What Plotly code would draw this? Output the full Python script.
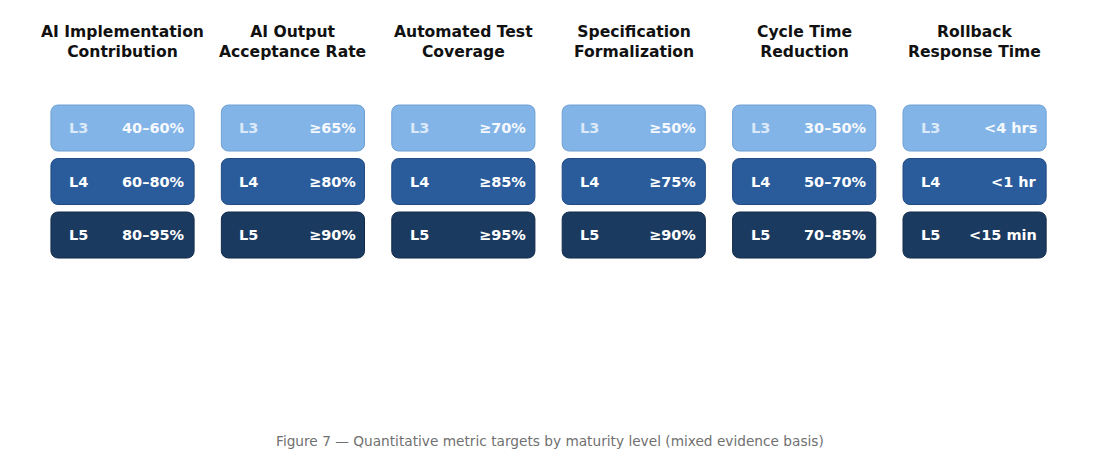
import plotly.graph_objects as go

# metric columns and their targets per maturity level
metrics = [
    "AI Implementation<br>Contribution",
    "AI Output<br>Acceptance Rate",
    "Automated Test<br>Coverage",
    "Specification<br>Formalization",
    "Cycle Time<br>Reduction",
    "Rollback<br>Response Time",
]
levels = ["L3", "L4", "L5"]
l3_targets = ["40–60%", "≥65%", "≥70%", "≥50%", "30–50%", "<4 hrs"]
l4_targets = ["60–80%", "≥80%", "≥85%", "≥75%", "50–70%", "<1 hr"]
l5_targets = ["80–95%", "≥90%", "≥95%", "≥90%", "70–85%", "<15 min"]
caption = "Figure 7 — Quantitative metric targets by maturity level (mixed evidence basis)"

targets = [l3_targets, l4_targets, l5_targets]
fills = ["#82b4e7", "#2a5c9c", "#1b3a60"]
edges = ["#6e9fd2", "#1f4a82", "#122b4a"]
label_colors = ["#dbe9f8", "#ffffff", "#ffffff"]
value_colors = ["#f6f9fd", "#ffffff", "#ffffff"]

FONT = "DejaVu Sans"
BOX_W = 0.84
BOX_H = 0.86

x = list(range(len(metrics)))
fig = go.Figure()

annotations = []
for row, (lvl, vals) in enumerate(zip(levels, targets)):
    fig.add_trace(go.Bar(
        x=x,
        y=[BOX_H] * len(x),
        base=[row - BOX_H / 2] * len(x),
        width=BOX_W,
        marker=dict(color=fills[row], line=dict(color=edges[row], width=1), cornerradius=7),
        hoverinfo="skip",
        showlegend=False,
    ))
    for i, v in enumerate(vals):
        annotations.append(dict(
            x=i - BOX_W / 2, y=row, xref="x", yref="y", text=f"<b>{lvl}</b>",
            xanchor="left", yanchor="middle", xshift=16, showarrow=False,
            font=dict(family=FONT, size=14.5, color=label_colors[row]),
        ))
        annotations.append(dict(
            x=i + BOX_W / 2, y=row, xref="x", yref="y", text=f"<b>{v}</b>",
            xanchor="right", yanchor="middle", xshift=-7, showarrow=False,
            font=dict(family=FONT, size=14.5, color=value_colors[row]),
        ))

for i, m in enumerate(metrics):
    annotations.append(dict(
        x=i, y=-1.6, xref="x", yref="y", text=f"<b>{m}</b>",
        xanchor="center", yanchor="middle", showarrow=False,
        font=dict(family=FONT, size=15.6, color="#111111"),
    ))

# caption sits near the bottom edge
annotations.append(dict(
    x=0.5, y=1 - 441 / 458, xref="paper", yref="paper", text=caption, showarrow=False,
    xanchor="center", yanchor="middle",
    font=dict(family=FONT, size=13.7, color="#707070"),
))

fig.update_layout(
    width=1100,
    height=458,
    margin=dict(l=0, r=0, t=0, b=0),
    paper_bgcolor="white",
    plot_bgcolor="white",
    barmode="overlay",
    xaxis=dict(range=[-0.719, 5.736], visible=False, fixedrange=True),
    yaxis=dict(range=[6.168, -2.393], visible=False, fixedrange=True),
    annotations=annotations,
)

fig.write_html("out.html", config={"displayModeBar": False},
               post_script="document.body.style.margin='0';")
